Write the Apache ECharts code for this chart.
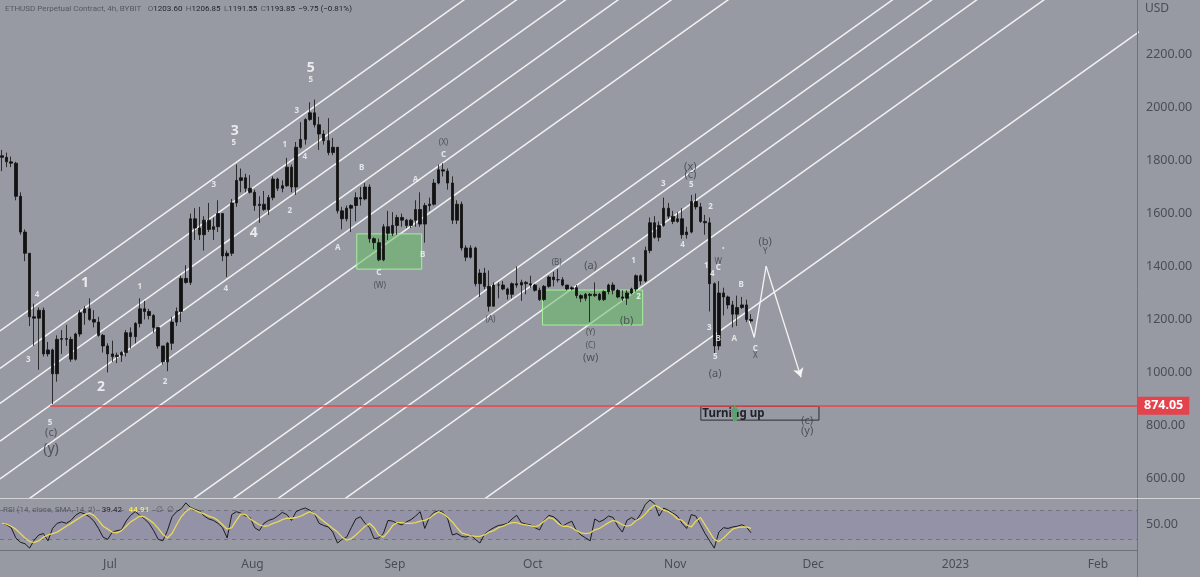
<!DOCTYPE html>
<html><head><meta charset="utf-8">
<script src="https://cdn.jsdelivr.net/npm/echarts@6/dist/echarts.min.js"></script>
<style>html,body{margin:0;padding:0;background:#979aa3;}#c{width:1200px;height:577px;}</style>
</head><body><div id="c"></div><script>
// ---------- DATA ----------
const firstDay = '2022-06-07';
const firstOpen = 1818;
const closes = [1812,1795,1790,1665,1530,1450,1210,1205,1235,1070,1085,995,1125,1128,1125,1050,1145,1225,1240,1200,1190,1140,1100,1070,
1060,1065,1075,1150,1135,1185,1240,1230,1215,1170,1100,1040,1110,1190,1230,1355,1340,1580,1545,1520,1575,1540,1550,1600,1440,1450,1640,1725,1735,1695,1680,
1630,1635,1615,1660,1730,1695,1705,1775,1700,1850,1880,1955,1980,1935,1900,1875,1830,1850,1610,1580,1620,1630,1660,1655,1700,1505,1490,1425,1550,1525,1555,
1585,1575,1555,1575,1615,1560,1630,1635,1715,1765,1760,1715,1575,1635,1470,1435,1470,1335,1375,1325,1250,1330,1330,1315,1295,1335,1330,1340,1335,1330,
1310,1275,1325,1360,1350,1350,1330,1315,1320,1290,1280,1295,1290,1295,1275,1305,1330,1310,1285,1280,1300,1315,1365,1345,1460,1565,1510,1555,1620,1590,1570,
1580,1520,1530,1645,1625,1570,1565,1335,1100,1300,1285,1255,1220,1245,1255,1200,1194];
const highs = [1840,1830,1815,1795,1680,1540,1450,1260,1245,1245,1115,1090,1140,1160,1180,1135,1150,1235,1250,1280,1235,1210,1145,1110,
1120,1075,1080,1160,1170,1190,1280,1270,1240,1220,1170,1100,1115,1210,1245,1365,1405,1600,1620,1625,1590,1640,1585,1650,1600,1460,1655,1785,1770,1750,1745,
1690,1665,1685,1670,1740,1735,1725,1810,1785,1870,1945,1960,2020,2030,1965,1915,1960,1885,1850,1625,1630,1635,1680,1700,1715,1710,1510,1505,1560,1610,1605,
1595,1600,1580,1580,1650,1680,1640,1660,1730,1785,1790,1770,1740,1650,1645,1480,1480,1475,1390,1395,1385,1340,1340,1345,1320,1340,1400,1350,1345,1365,
1335,1320,1330,1365,1380,1390,1360,1330,1325,1330,1295,1300,1300,1340,1300,1310,1335,1340,1315,1310,1310,1320,1370,1370,1475,1585,1590,1570,1660,1640,1610,
1605,1620,1550,1670,1675,1640,1595,1585,1340,1345,1320,1290,1270,1290,1285,1275,1220];
const lows = [1760,1775,1775,1650,1520,1420,1175,1100,1010,1060,1060,880,965,1070,1100,1040,1045,1135,1180,1195,1170,1135,1075,1000,
1040,1035,1040,1060,1090,1110,1170,1200,1200,1150,1090,1030,1005,1085,1175,1190,1335,1330,1500,1500,1460,1530,1500,1530,1420,1360,1440,1625,1680,1680,1675,
1610,1565,1610,1595,1650,1685,1680,1700,1680,1670,1845,1860,1950,1925,1840,1860,1820,1820,1600,1540,1570,1530,1570,1630,1650,1490,1465,1420,1420,1500,1515,
1520,1550,1545,1545,1550,1550,1490,1610,1630,1710,1740,1690,1560,1560,1460,1420,1430,1325,1285,1315,1230,1250,1280,1310,1275,1280,1320,1270,1295,1320,
1305,1270,1270,1320,1325,1340,1325,1310,1310,1280,1265,1270,1190,1285,1270,1270,1295,1295,1280,1270,1255,1295,1305,1330,1340,1450,1505,1495,1550,1580,1560,
1565,1505,1505,1525,1615,1565,1520,1230,1070,1085,1215,1240,1170,1175,1240,1190,1175];
const rsiValues = [52,50,46,32,26,24,18,29,36,38,28,45,52,54,52,56,63,67,65,61,55,45,33,30,40,42,43,55,63,68,
63,58,52,42,30,28,42,61,68,72,80,74,71,69,62,58,56,52,46,32,64,68,66,62,60,46,42,52,56,58,
62,67,64,56,68,71,73,70,65,52,49,47,40,25,30,33,46,58,61,52,46,31,32,38,56,55,52,50,54,57,
62,68,45,60,67,69,67,58,36,38,34,33,36,30,25,37,42,46,49,50,52,58,63,53,51,50,46,43,56,63,
61,56,48,52,55,42,36,32,28,58,54,57,62,60,48,40,56,60,56,65,78,84,79,62,73,70,66,62,52,45,
64,62,50,38,28,18,40,46,45,47,48,50,47,39];
const rsiSmaValues = [52,51,48,44,38,32,27,26,28,33,36,38,40,44,48,52,56,60,64,66,63,56,48,44,40,39,42,48,54,58,
62,61,57,52,45,37,32,38,50,61,68,73,70,67,65,62,60,56,50,44,46,56,65,64,58,54,50,48,49,52,
54,57,59,59,60,62,65,68,65,60,55,50,45,40,33,29,31,36,42,48,52,46,36,33,40,49,53,53,52,52,
53,55,56,59,64,68,65,60,54,46,39,37,35,34,34,36,40,42,46,48,51,53,53,51,50,49,47,50,55,60,
58,52,48,48,46,42,39,38,39,43,45,49,53,56,54,50,48,50,56,59,65,72,77,74,70,68,64,58,56,50,
47,55,60,50,40,30,27,32,38,44,46,47,47,45];
const priceTicks = [600,800,1000,1200,1400,1600,1800,2000,2200];
const rsiTicks = [50];
const monthTicks = ['2022-07-01','2022-08-01','2022-09-01','2022-10-01','2022-11-01','2022-12-01','2023-01-01','2023-02-01'];
const monthLabels = ['Jul','Aug','Sep','Oct','Nov','Dec','2023','Feb'];
// parallel channel lines (price at the two anchor dates)
const channelDates = ['2022-06-07 01:30','2023-02-10 00:00'];
const channelStart = [1156.5,1015,883,741,598,445,2,-104,-225,-406,-783];
const channelEnd = [4226,4084.5,3952.5,3811,3667.5,3514.5,3071.5,2965.5,2844.5,2663.5,2286.5];
const supportLevel = 874.05;
const supportFrom = '2022-06-18 00:00';
const zoneFrom = ['2022-08-23 17:00','2022-10-03 03:00'];
const zoneTo = ['2022-09-06 20:00','2022-10-24 22:00'];
const zoneLow = [1390,1179];
const zoneHigh = [1523,1311];
const projDates = ['2022-11-17 02:00','2022-11-18 05:00','2022-11-20 19:00','2022-11-28 09:00'];
const projPrices = [1195,1132,1401,982];
const boxDates = ['2022-11-06 14:00','2022-12-02 07:00'];
const boxPrices = [820,872];
const arrowAt = ['2022-11-14 00:00',846];
const lastRsi = '39.42', lastSma = '44.91';
// wave labels [date, price, text]
const wavesBig = [['2022-06-25 14:00',1338,'1'],['2022-06-29 01:00',945,'2'],['2022-07-28 04:00',1911,'3'],['2022-08-01 07:00',1526,'4'],['2022-08-13 17:00',2149,'5']];
const wavesSmall = [['2022-06-15 03:00',1292,'4'],['2022-06-13 05:00',1047,'3'],['2022-06-17 23:00',809,'5'],['2022-07-07 12:00',1322,'1'],['2022-07-12 23:00',964,'2'],
['2022-07-23 14:00',1707,'3'],['2022-07-26 05:00',1315,'4'],['2022-07-27 23:00',1866,'5'],['2022-08-08 01:00',1858,'1'],['2022-08-09 03:00',1609,'2'],
['2022-08-10 16:00',1987,'3'],['2022-08-12 10:00',1813,'4'],['2022-08-13 17:00',2104,'5'],['2022-08-19 14:00',1470,'A'],['2022-08-24 19:00',1772,'B'],
['2022-08-28 12:00',1375,'C'],['2022-09-05 12:00',1726,'A'],['2022-09-07 01:00',1443,'B'],['2022-09-11 14:00',1821,'C'],['2022-10-22 22:00',1421,'1'],
['2022-10-24 00:00',1285,'2'],['2022-10-29 10:00',1711,'3'],['2022-11-02 14:00',1481,'4'],['2022-11-04 12:00',1707,'5'],['2022-11-08 16:00',1624,'2'],
['2022-11-07 19:00',1402,'1'],['2022-11-09 02:00',1372,'4'],['2022-11-08 10:00',1168,'3'],['2022-11-10 09:00',1126,'B'],['2022-11-09 17:00',1058,'5'],
['2022-11-13 21:00',1126,'A'],['2022-11-15 09:00',1330,'B'],['2022-11-10 09:00',1394,'C'],['2022-11-18 10:00',1089,'C']];
const wavesDarkSmall = [['2022-11-10 09:00',1417,'W'],['2022-11-18 10:00',1062,'X'],['2022-11-20 14:00',1455,'Y'],['2022-08-28 17:00',1326,'(W)'],
['2022-09-11 14:00',1866,'(X)'],['2022-09-21 19:00',1198,'(A)'],['2022-10-06 05:00',1413,'(B)'],['2022-10-13 14:00',1149,'(Y)'],['2022-10-13 14:00',1100,'(C)']];
const wavesDark = [['2022-10-13 14:00',1402,'(a)'],['2022-10-13 14:00',1055,'(w)'],['2022-10-21 10:00',1194,'(b)'],['2022-11-04 07:00',1775,'(x)'],
['2022-11-04 07:00',1745,'(c)'],['2022-11-09 17:00',994,'(a)'],['2022-11-20 14:00',1492,'(b)'],['2022-11-29 17:00',817,'(c)'],['2022-11-29 17:00',779,'(y)'],
['2022-06-18 04:00',771,'(c)']];
const wavesDarkBig = [['2022-06-18 04:00',711,'(y)']];

// ---------- BUILD ----------
function ts(s){const p=s.split(' ');const d=p[0].split('-').map(Number);const t=(p[1]||'00:00').split(':').map(Number);return new Date(d[0],d[1]-1,d[2],t[0],t[1]).getTime();}
const start = firstDay.split('-').map(Number);
const dayTs = closes.map((c,i)=>new Date(start[0],start[1]-1,start[2]+i,12,0).getTime());
const candles = closes.map((c,i)=>[dayTs[i], i===0 ? firstOpen : closes[i-1], c, lows[i], highs[i]]);
const rsiData = rsiValues.map((v,i)=>[dayTs[i], v]);
const smaData = rsiSmaValues.map((v,i)=>[dayTs[i], v]);
const xMin = ts('2022-06-07 01:30'), xMax = ts('2023-02-09 12:00');
const monthTs = monthTicks.map(ts);
const FONT = 'Noto Sans';
const SMALLFONT = 'Roboto';
const BG = '#979aa3';
const DARK = '#3b3e47';

const channelSeries = channelStart.map((p,i)=>({
  type:'line', xAxisIndex:0, yAxisIndex:0, symbol:'none', silent:true, clip:true, z:1,
  lineStyle:{color:'#f2f2f2', width:1.5},
  data:[[ts(channelDates[0]),p],[ts(channelDates[1]),channelEnd[i]]]
}));
function labelSeries(arr, size, color, bold){
  return {type:'scatter', xAxisIndex:0, yAxisIndex:0, symbolSize:1, silent:true, z:20, itemStyle:{color:'rgba(0,0,0,0)'},
    data:arr.map(a=>({name:a[2], value:[ts(a[0]),a[1]]})),
    label:{show:true, position:'inside', formatter:'{b}', fontSize:size, color:color, fontWeight:bold?'bold':'normal', fontFamily:FONT}};
}

const chart = echarts.init(document.getElementById('c'), null, {renderer:'canvas', width:1200, height:577});
chart.setOption({
  backgroundColor: BG,
  animation:false,
  grid:[{left:0, right:63, top:0, height:498}, {left:0, right:63, top:499, height:51}],
  xAxis:[
    {type:'value', gridIndex:0, min:xMin, max:xMax, show:false},
    {type:'value', gridIndex:1, min:xMin, max:xMax,
     axisLine:{show:false}, axisTick:{show:false}, splitLine:{show:false},
     axisLabel:{customValues:monthTs, color:'#4a4d56', fontSize:12, fontFamily:FONT, margin:9, hideOverlap:false,
       formatter:(v)=>{const k=monthTs.findIndex(m=>Math.abs(m-v)<3600e3*30);return k>=0?monthLabels[k]:'';}}}
  ],
  yAxis:[
    {type:'value', gridIndex:0, position:'right', min:526, max:2406,
     axisLine:{show:false}, axisTick:{show:false}, splitLine:{show:false},
     axisLabel:{customValues:priceTicks, formatter:v=>v.toFixed(2), color:'#4a4d56', fontSize:12.5, fontFamily:FONT, margin:9}},
    {type:'value', gridIndex:1, position:'right', min:15.4, max:85.4,
     axisLine:{show:false}, axisTick:{show:false}, splitLine:{show:false},
     axisLabel:{customValues:rsiTicks, formatter:v=>v.toFixed(2), color:'#4a4d56', fontSize:12.5, fontFamily:FONT, margin:9}}
  ],
  series:[
    ...channelSeries,
    {type:'candlestick', xAxisIndex:0, yAxisIndex:0, barWidth:3, z:5, clip:true,
     itemStyle:{color:'#121212', color0:'#121212', borderColor:'#121212', borderColor0:'#121212', borderWidth:0.8},
     data:candles,
     markArea:{silent:true, z:3, data:[
       [{xAxis:ts(zoneFrom[0]), yAxis:zoneHigh[0], itemStyle:{color:'rgba(102,190,102,0.55)', borderColor:'#a8ee9e', borderWidth:1}},{xAxis:ts(zoneTo[0]), yAxis:zoneLow[0]}],
       [{xAxis:ts(zoneFrom[1]), yAxis:zoneHigh[1], itemStyle:{color:'rgba(102,190,102,0.55)', borderColor:'#a8ee9e', borderWidth:1}},{xAxis:ts(zoneTo[1]), yAxis:zoneLow[1]}],
       [{xAxis:ts(boxDates[0]), yAxis:boxPrices[1], itemStyle:{color:'rgba(0,0,0,0)', borderColor:'#2b2d33', borderWidth:1},
         label:{show:true, position:'insideLeft', formatter:'Turning up', color:'#1f2126', fontSize:11.5, fontWeight:'bold', fontFamily:FONT, distance:2}},
        {xAxis:ts(boxDates[1]), yAxis:boxPrices[0]}]
     ]},
     markLine:{silent:true, symbol:['none','none'], z:6,
       lineStyle:{color:'#f0424c', width:1.5, type:'solid'},
       label:{show:true, position:'end', formatter:supportLevel.toFixed(2), color:'#fff', backgroundColor:'#e2434d', padding:[3,6,2,6], fontSize:12.5, fontWeight:'bold', fontFamily:FONT, distance:1},
       data:[[{coord:[ts(supportFrom), supportLevel]},{coord:[xMax, supportLevel]}]]},
     markPoint:{silent:true, z:7, data:[{coord:[ts(arrowAt[0]),arrowAt[1]], symbol:'path://M5,0 L10,6 L7,6 L7,14 L3,14 L3,6 L0,6 Z', symbolSize:[10,16], itemStyle:{color:'#5aa36c'}, label:{show:false}}]}
    },
    {type:'line', xAxisIndex:0, yAxisIndex:0, symbol:'none', z:8, clip:false,
     lineStyle:{color:'#f4f4f4', width:1.3},
     data:projDates.slice(0,3).map((d,i)=>[ts(d),projPrices[i]]),
     markLine:{silent:true, symbol:['none','arrow'], symbolSize:[8,9], lineStyle:{color:'#f4f4f4', width:1.3, type:'solid'}, label:{show:false},
       data:[[{coord:[ts(projDates[2]),projPrices[2]]},{coord:[ts(projDates[3]),projPrices[3]]}]]}},
    {type:'scatter', xAxisIndex:0, yAxisIndex:0, symbolSize:2, itemStyle:{color:'#f4f4f4'}, data:[[ts('2022-11-11 11:00'),1470]], z:9},
    labelSeries(wavesBig, 14, '#ffffff', true),
    labelSeries(wavesSmall, 8, '#f7f7f7', true),
    labelSeries(wavesDarkSmall, 8, DARK, false),
    labelSeries(wavesDark, 11, DARK, false),
    labelSeries(wavesDarkBig, 14, DARK, false),
    {type:'line', xAxisIndex:1, yAxisIndex:1, symbol:'none', z:5, lineStyle:{color:'#1c1c1c', width:1}, data:rsiData,
     markArea:{silent:true, z:1, itemStyle:{color:'rgba(126,87,194,0.12)'}, data:[[{yAxis:70},{yAxis:30}]]},
     markLine:{silent:true, symbol:'none', label:{show:false}, lineStyle:{color:'#70737c', type:[4,4], width:1}, data:[{yAxis:70},{yAxis:30}]}},
    {type:'line', xAxisIndex:1, yAxisIndex:1, symbol:'none', z:6, lineStyle:{color:'#e9d85a', width:1.3}, data:smaData}
  ],
  graphic:[
    {type:'line', silent:true, z:50, shape:{x1:1137.5,y1:0,x2:1137.5,y2:577}, style:{stroke:'#6e717a', lineWidth:1}},
    {type:'line', silent:true, z:50, shape:{x1:0,y1:498.5,x2:1200,y2:498.5}, style:{stroke:'#d2d4d8', lineWidth:1}},
    {type:'line', silent:true, z:50, shape:{x1:0,y1:550.5,x2:1137,y2:550.5}, style:{stroke:'#6e717a', lineWidth:1}},
    {type:'text', silent:true, z:50, left:1145, top:3, style:{text:'USD', fill:'#4a4d56', font:'12px "Noto Sans"'}},
    {type:'text', silent:true, z:50, left:5, top:3, style:{
      text:'{a|ETHUSD Perpetual Contract, 4h, BYBIT}  {a|O}{c|1203.60} {a|H}{c|1206.85} {a|L}{c|1191.55} {a|C}{c|1193.85} {c|−9.75 (−0.81%)}',
      rich:{a:{fill:'#565963', fontSize:8, fontFamily:SMALLFONT}, c:{fill:'#24262c', fontSize:8, fontFamily:SMALLFONT}}}},
    {type:'text', silent:true, z:50, left:3, top:504, style:{
      text:'{a|RSI (14, close, SMA, 14, 2)}  {c|'+lastRsi+'}  {y|'+lastSma+'}  {a|∅  ∅}',
      rich:{a:{fill:'#565963', fontSize:8, fontFamily:SMALLFONT}, c:{fill:'#24262c', fontSize:8, fontFamily:SMALLFONT}, y:{fill:'#efe06a', fontSize:8, fontWeight:'bold', fontFamily:SMALLFONT}}}}
  ]
});
</script></body></html>
